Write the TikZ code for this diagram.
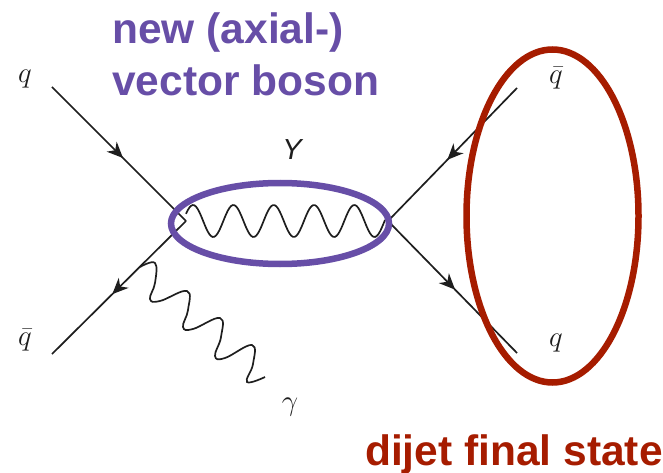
\RequirePackage{fix-cm}
\documentclass[tikz,border=0pt]{standalone}
\usepackage{fontspec}
\setsansfont{Liberation Sans}
\definecolor{bosonPurple}{HTML}{674EA7}
\definecolor{jetRed}{HTML}{A61C00}
\definecolor{lineBlack}{RGB}{30,30,30}
\usetikzlibrary{arrows.meta,shapes.geometric,decorations.markings}

\begin{document}
\begin{tikzpicture}[
  x=1pt, y=-1pt,
  fermion/.style={draw=lineBlack, line width=1.7pt, postaction={decorate},
                  decoration={markings, mark=at position #1 with
                    {\arrow{Stealth[length=16pt,width=14pt,inset=5pt]}}}},
  ring/.style={draw, ellipse, line width=6.5pt, inner sep=0pt},
  title/.style={font=\sffamily\bfseries\fontsize{42.5}{52}\selectfont, inner sep=0pt, align=left},
  lab/.style={font=\fontsize{29}{29}\selectfont, inner sep=0pt, text=lineBlack}
]
  \useasboundingbox (0,0) rectangle (663,473);

  \coordinate (inq)    at (52,87);
  \coordinate (inqbar) at (52,354);
  \coordinate (vl)     at (186,221);
  \coordinate (vr)     at (388,221);
  \coordinate (outqbar) at (517,88);
  \coordinate (outq)   at (517,353);

  \draw[fermion=0.53] (inq) -- (vl);
  \draw[fermion=0.55] (vl) -- (inqbar);
  \draw[fermion=0.54] (outqbar) -- (vr);
  \draw[fermion=0.52] (vr) -- (outq);

  % boson and photon lines
  \draw[lineBlack, line width=1.7pt] plot[domain=186:385, samples=120, smooth]
    (\x,{221-16*sin((\x-183)*8.93)});
  \draw[lineBlack, line width=1.7pt] plot[smooth, tension=0.7] coordinates {
    (140,267) (155,263) (155,283) (150,299) (160,301) (187,291) (188,310) (183,327)
    (193,329) (220,318) (221,337) (215,356) (225,358) (252,345) (253,364) (247,382) (265,377)};

  \node[ring, draw=bosonPurple, minimum width=218pt, minimum height=81pt] (bosonring) at (280,223.5) {};
  \node[ring, draw=jetRed, minimum width=172pt, minimum height=333pt]     (jetring)   at (552.5,216) {};

  \node[title, text=bosonPurple, anchor=west] (bosontitle) at (112,54) {new (axial-)\\vector boson};
  \node[title, text=jetRed, anchor=base west] (jettitle) at (365,465) {dijet final state};

  \node[lab] (labq)    at (25,79)   {$q$};
  \node[lab] (labqbar) at (25,340)  {$\bar q$};
  \node[lab] (labg)    at (290,407) {$\gamma$};
  \node[lab] (labqbr)  at (556,78)  {$\bar q$};
  \node[lab] (labqr)   at (556,343) {$q$};
  \node[lab, font=\sffamily\itshape\fontsize{29}{29}\selectfont] (laby) at (292,150) {Y};
\end{tikzpicture}
\end{document}
